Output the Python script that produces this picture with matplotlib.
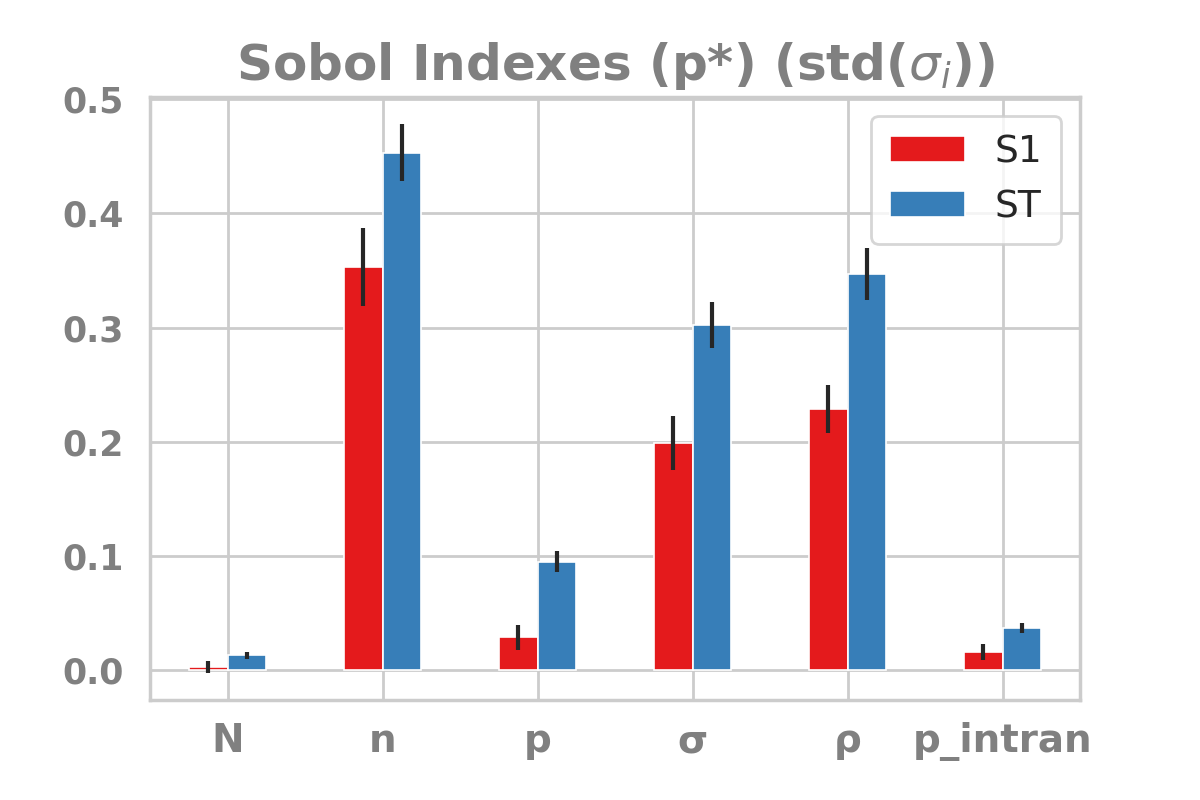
import pandas as pd
import seaborn as sns
import matplotlib.pyplot as plt

# parametros e indices
params = ["N", "n", "p", "σ", "ρ", "p_intran"]
s1 = [0.003, 0.353, 0.029, 0.199, 0.229, 0.016]
st = [0.013, 0.453, 0.095, 0.302, 0.347, 0.037]
s1_conf = [0.005, 0.034, 0.011, 0.024, 0.021, 0.007]
st_conf = [0.003, 0.025, 0.009, 0.020, 0.023, 0.004]

sns.set_theme(style="whitegrid")
plt.rcParams["font.family"] = ["DejaVu Sans"]

df = pd.DataFrame({"S1": s1, "ST": st}, index=params)
err = pd.DataFrame({"S1": s1_conf, "ST": st_conf}, index=params)

fig, ax = plt.subplots(figsize=(6, 4), dpi=200)
fig.subplots_adjust(left=0.125, right=0.9, top=0.879, bottom=0.125)

df.plot.bar(ax=ax, yerr=err, color=["#e41a1c", "#377eb8"], edgecolor="white",
            linewidth=0.6, error_kw={"ecolor": "#262626", "elinewidth": 1.5}, rot=0)

ax.set_xlim(-0.5, 5.5)
ax.set_ylim(-0.026, 0.502)
ax.set_title(r"Sobol Indexes (p*) (std($\sigma_i$))", fontsize=18,
             fontweight="bold", color="gray")
for lbl in ax.get_xticklabels():
    lbl.set_fontweight("bold")
    lbl.set_color("gray")
    lbl.set_fontsize(14)
for lbl in ax.get_yticklabels():
    lbl.set_fontweight("bold")
    lbl.set_color("gray")
    lbl.set_fontsize(12.5)
ax.tick_params(axis="x", pad=2)
ax.legend(loc="upper right", fontsize=13.5, borderpad=0.5)
for s in ax.spines.values():
    s.set_color("#cccccc")

plt.savefig("out.png")
